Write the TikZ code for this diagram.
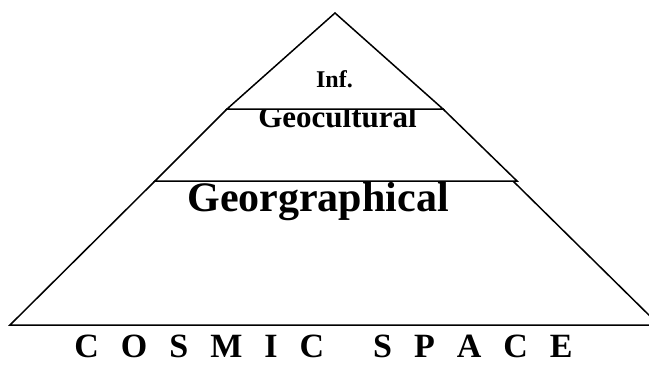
\documentclass[tikz,border=0pt]{standalone}
\usepackage{fontspec}
\setmainfont{Liberation Serif}
\newcommand\lgap{\hspace{22pt}}
\begin{document}
\begin{tikzpicture}[x=1pt,y=-1pt,
  layer/.style={draw=black, fill=white, line width=1.5pt, line join=miter},
  lbl/.style={inner sep=0pt, anchor=base, font=\bfseries}]
\useasboundingbox (0,0) rectangle (649,365);
\begin{scope}
\clip (0,0) rectangle (649,365);
% bottom layer
\draw[layer] (155,181) -- (513,181) -- (659,325) -- (10,325) -- cycle;
\node[lbl, font=\fontsize{42}{42}\selectfont\bfseries] (geo) at (318,211) {Georgraphical};
% middle layer
\draw[layer] (227,109) -- (443,109) -- (517,181) -- (155,181) -- cycle;
\node[lbl, font=\fontsize{31}{31}\selectfont\bfseries] (cult) at (337.5,127) {Geocultural};
% top layer
\draw[layer] (335,13) -- (443,109) -- (227,109) -- cycle;
\node[lbl, font=\fontsize{24}{24}\selectfont\bfseries] (inf) at (334.5,87) {Inf.};
\end{scope}
\node[lbl, font=\fontsize{34}{34}\selectfont\bfseries] (cosmic) at (323.5,357)
  {C\lgap O\lgap S\lgap M\lgap I\lgap C\hspace{49pt}S\lgap P\lgap A\lgap C\lgap E};
\end{tikzpicture}
\end{document}
